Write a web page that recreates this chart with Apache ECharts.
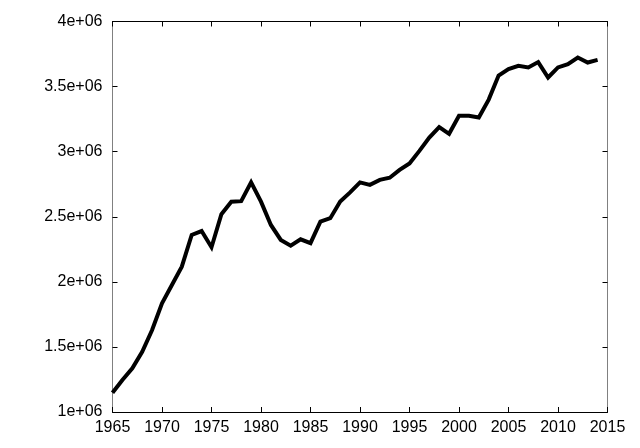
<!DOCTYPE html>
<html>
<head>
<meta charset="utf-8">
<script src="https://cdn.jsdelivr.net/npm/echarts@6/dist/echarts.min.js"></script>
<style>html,body{margin:0;padding:0;background:#fff;}#chart{width:640px;height:448px;}</style>
</head>
<body>
<div id="chart"></div>
<script>
var years = [1965,1966,1967,1968,1969,1970,1971,1972,1973,1974,1975,1976,1977,1978,1979,1980,1981,1982,1983,1984,1985,1986,1987,1988,1989,1990,1991,1992,1993,1994,1995,1996,1997,1998,1999,2000,2001,2002,2003,2004,2005,2006,2007,2008,2009,2010,2011,2012,2013,2014];
var values = [1148000,1246000,1336000,1463000,1630000,1835000,1976000,2117000,2360000,2390000,2266000,2520000,2616000,2620000,2765000,2616000,2437000,2322000,2278000,2327000,2297000,2463000,2489000,2617000,2687000,2764000,2745000,2783000,2800000,2860000,2910000,3006000,3108000,3188000,3137000,3275000,3275000,3262000,3400000,3585000,3634000,3660000,3647000,3688000,3570000,3647000,3672000,3723000,3685000,3705000];
var xTicks = [1965,1970,1975,1980,1985,1990,1995,2000,2005,2010,2015];
var yTickValues = [1000000,1500000,2000000,2500000,3000000,3500000,4000000];
var yTickLabels = ['1e+06','1.5e+06','2e+06','2.5e+06','3e+06','3.5e+06','4e+06'];

var chart = echarts.init(document.getElementById('chart'), null, {renderer:'canvas'});
var fontFamily = '"Liberation Sans", Arial, sans-serif';
function yLabel(v){ var i = yTickValues.indexOf(v); return i >= 0 ? yTickLabels[i] : ''; }
var baseX = {type:'value', min:xTicks[0], max:xTicks[xTicks.length-1], interval:5, splitLine:{show:false}};
var baseY = {type:'value', min:yTickValues[0], max:yTickValues[yTickValues.length-1], interval:500000, splitLine:{show:false}};
chart.setOption({
  animation:false,
  backgroundColor:'#fff',
  grid:{left:112.5, right:32.5, top:21.5, bottom:36, containLabel:false},
  xAxis:[
    Object.assign({}, baseX, {position:'bottom',
      axisLine:{show:true, onZero:false, lineStyle:{color:'#000', width:1}},
      axisTick:{show:true, inside:true, length:5, lineStyle:{color:'#000'}},
      axisLabel:{show:true, margin:8, color:'#000', fontSize:16, fontFamily:fontFamily, formatter:function(v){return String(v);}}}),
    Object.assign({}, baseX, {position:'top',
      axisLine:{show:true, onZero:false, lineStyle:{color:'#000', width:1}},
      axisTick:{show:true, inside:true, length:5, lineStyle:{color:'#000'}},
      axisLabel:{show:false}})
  ],
  yAxis:[
    Object.assign({}, baseY, {position:'left',
      axisLine:{show:true, onZero:false, lineStyle:{color:'#808080', width:1}},
      axisTick:{show:true, inside:true, length:5, lineStyle:{color:'#000'}},
      axisLabel:{show:true, margin:10, color:'#000', fontSize:16, fontFamily:fontFamily, formatter:yLabel}}),
    Object.assign({}, baseY, {position:'right',
      axisLine:{show:true, onZero:false, lineStyle:{color:'#808080', width:1}},
      axisTick:{show:true, inside:true, length:5, lineStyle:{color:'#000'}},
      axisLabel:{show:false}})
  ],
  series:[{
    type:'line',
    xAxisIndex:0, yAxisIndex:0,
    data: years.map(function(y,i){return [y, values[i]];}),
    showSymbol:false,
    symbol:'none',
    lineStyle:{color:'#000', width:4, join:'miter'},
    itemStyle:{color:'#000'}
  }]
});
</script>
</body>
</html>
